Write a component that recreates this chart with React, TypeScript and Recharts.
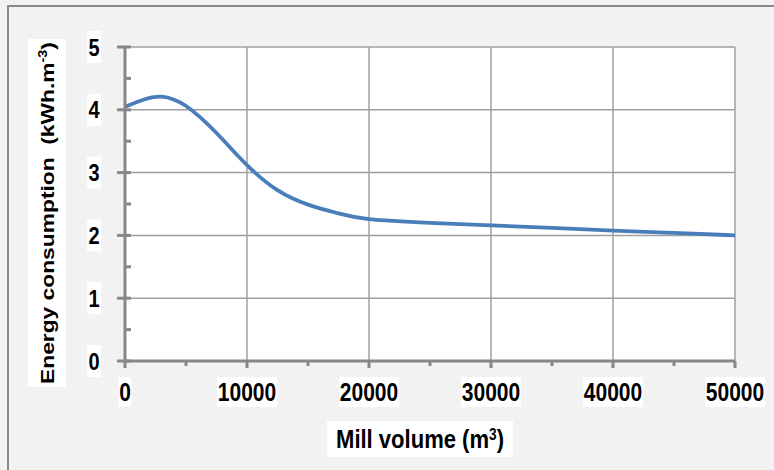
import { LineChart, Line, XAxis, YAxis, CartesianGrid } from "recharts";

const millVolume = [0, 1500, 3000, 5000, 7500, 10000, 12500, 15000, 17500, 20000, 25000, 30000, 35000, 40000, 45000, 50000];
const energyUse = [4.05, 4.16, 4.21, 4.06, 3.63, 3.12, 2.72, 2.49, 2.35, 2.26, 2.2, 2.16, 2.12, 2.075, 2.04, 2.0];

const xMajor = [0, 10000, 20000, 30000, 40000, 50000];
const xAllTicks = [0, 5000, 10000, 15000, 20000, 25000, 30000, 35000, 40000, 45000, 50000];
const yMajor = [0, 1, 2, 3, 4, 5];
const yAllTicks = [0, 0.5, 1, 1.5, 2, 2.5, 3, 3.5, 4, 4.5, 5];

const data = millVolume.map((v, i) => ({ volume: v, energy: energyUse[i] }));

const AXIS_GRAY = "#878787";
const FONT = "'Liberation Sans', Arial, sans-serif";

const XTick = (props: any) => {
    const { x, y, payload } = props;
    const major = xMajor.includes(payload.value);
    const label = String(payload.value);
    const w = label.length * 11.7 + 1;
    return (
        <g>
            <line x1={x} x2={x} y1={y} y2={y + (major ? 7 : 5)} stroke={AXIS_GRAY} strokeWidth={3} />
            {major && (
                <g transform={`translate(${x},${y + 31})`}>
                    <rect x={-w / 2} y={-15} width={w} height={30} fill="#ffffff" />
                    <g transform="scale(1,1.2)">
                        <text x={0} y={0} dy="0.36em" textAnchor="middle" fontFamily={FONT} fontWeight="bold" fontSize={21} fill="#000">
                            {label}
                        </text>
                    </g>
                </g>
            )}
        </g>
    );
};

const YTick = (props: any) => {
    const { x, y, payload } = props;
    const major = yMajor.includes(payload.value);
    return (
        <g>
            <line x1={major ? x - 8 : x} x2={x + 6} y1={y} y2={y} stroke={AXIS_GRAY} strokeWidth={3} />
            {major && (
                <g transform={`translate(${x - 31},${y})`}>
                    <rect x={-7} y={-16} width={14} height={32} fill="#ffffff" />
                    <g transform="scale(1,1.2)">
                        <text x={0} y={0} dy="0.36em" textAnchor="middle" fontFamily={FONT} fontWeight="bold" fontSize={20} fill="#000">
                            {payload.value}
                        </text>
                    </g>
                </g>
            )}
        </g>
    );
};

const XTitle = (props: any) => {
    const { viewBox } = props;
    const cx = viewBox.x + viewBox.width / 2 - 10;
    const cy = viewBox.y + 78;
    return (
        <g transform={`translate(${cx},${cy})`}>
            <rect x={-93} y={-18} width={186} height={36} fill="#ffffff" />
            <g transform="scale(1.05,1.2)">
                <text x={0} y={0} dy="0.36em" textAnchor="middle" fontFamily={FONT} fontWeight="bold" fontSize={21} fill="#000">
                    Mill volume (m<tspan dy={-7} fontSize={13}>3</tspan><tspan dy={7}>)</tspan>
                </text>
            </g>
        </g>
    );
};

const YTitle = (props: any) => {
    const { viewBox } = props;
    const cx = 47;
    const cy = viewBox.y + viewBox.height / 2 + 9;
    return (
        <g>
            <rect x={cx - 19} y={cy - 174} width={38} height={348} fill="#ffffff" />
            <g transform={`translate(${cx},${cy}) rotate(-90) scale(1.2,1)`}>
                <text x={0} y={0} dy="0.36em" textAnchor="middle" fontFamily={FONT} fontWeight="bold" fontSize={19} fill="#000" style={{ whiteSpace: "pre" }}>
                    Energy consumption  (kWh.m<tspan dy={-7} fontSize={12}>-3</tspan><tspan dy={7}>)</tspan>
                </text>
            </g>
        </g>
    );
};

export default function App() {
    return (
        <div style={{ position: "absolute", left: 0, top: 0, width: 774, height: 470, background: "#f2f2f2", overflow: "hidden" }}>
            <div
                style={{
                    position: "absolute",
                    left: 7,
                    top: 5,
                    width: 800,
                    height: 500,
                    borderLeft: "2px solid #898989",
                    borderTop: "2px solid #898989",
                }}
            />
            <div style={{ position: "absolute", left: 0, top: 0 }}>
                <LineChart width={774} height={470} data={data} margin={{ top: 47, right: 39, left: 0, bottom: 0 }}>
                    <CartesianGrid
                        fill="#ffffff"
                        stroke="#a0a0a0"
                        strokeWidth={1.5}
                        horizontalValues={yMajor}
                        verticalValues={xMajor}
                    />
                    <XAxis
                        dataKey="volume"
                        type="number"
                        domain={[0, 50000]}
                        ticks={xAllTicks}
                        interval={0}
                        height={109}
                        tickSize={0}
                        tickMargin={0}
                        tickLine={false}
                        axisLine={{ stroke: AXIS_GRAY, strokeWidth: 3 }}
                        tick={<XTick />}
                        label={<XTitle />}
                    />
                    <YAxis
                        type="number"
                        domain={[0, 5]}
                        ticks={yAllTicks}
                        interval={0}
                        width={125}
                        tickSize={0}
                        tickMargin={0}
                        tickLine={false}
                        axisLine={{ stroke: AXIS_GRAY, strokeWidth: 3 }}
                        tick={<YTick />}
                        label={<YTitle />}
                    />
                    <Line
                        type="natural"
                        dataKey="energy"
                        stroke="#4a7ebb"
                        strokeWidth={3.8}
                        dot={false}
                        isAnimationActive={false}
                    />
                </LineChart>
            </div>
        </div>
    );
}
